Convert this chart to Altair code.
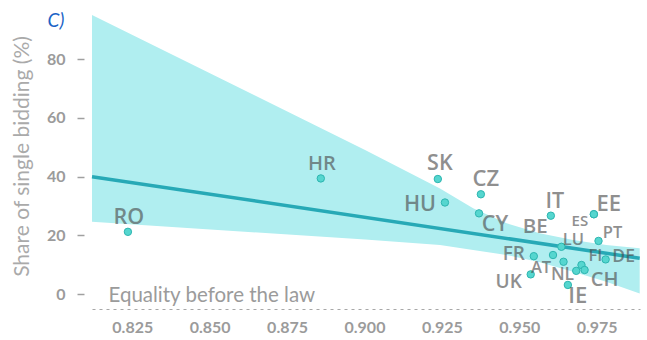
import altair as alt
import pandas as pd

# Country observations: rule-of-law index vs. share of single bidding
countries = ["RO", "HR", "SK", "HU", "CZ", "CY", "IT", "EE", "ES", "BE",
             "PT", "LU", "FR", "AT", "NL", "FI", "DE", "UK", "IE", "CH"]
equality = [0.8236, 0.8859, 0.9237, 0.9260, 0.9376, 0.9370, 0.9602, 0.9741, 0.9741, 0.9684,
            0.9756, 0.9636, 0.9547, 0.9609, 0.9643, 0.9701, 0.9779, 0.9537, 0.9657, 0.9711]
single_bidding = [21.2, 39.4, 39.2, 31.2, 34.0, 27.5, 26.7, 27.2, 27.2, 7.9,
                  18.1, 16.1, 12.9, 13.3, 11.0, 9.9, 11.8, 6.7, 3.1, 8.2]

# Repelled label placement (pixel offsets from each point) and label font sizes
label_dx = [1, 1, 2, -25, 5, 16, 4, 15, -14, -41, 14, 12, -20, -12, -1, 14, 18, -22, 10, 20]
label_dy = [-15, -15, -16, 2, -16, 11, -15, -11, 6, -45, -9, -8, -3, 12, 12, -10, -3, 7, 10, 9]
label_size = [21.5, 20, 21.5, 21.5, 22, 21.5, 21.5, 22, 15, 20.5,
              16.5, 16.5, 19, 16.5, 17.5, 16.5, 17.5, 19, 22, 20]

# Fitted line and its confidence band
fit_x = [0.812, 0.9889]
fit_y = [40.0, 12.2]
band_x = [0.812, 0.9002, 0.9244, 0.9351, 0.9459, 0.9566, 0.9674, 0.9781, 0.9889]
band_hi = [95.1, 49.1, 36.0, 29.2, 24.1, 20.7, 18.4, 16.7, 15.6]
band_lo = [24.6, 18.6, 16.7, 15.0, 13.3, 10.8, 7.6, 4.2, 0.2]

x_ticks = [0.825, 0.850, 0.875, 0.900, 0.925, 0.950, 0.975]
y_ticks = [0, 20, 40, 60, 80]

pts = pd.DataFrame({"country": countries, "x": equality, "y": single_bidding})
fit = pd.DataFrame({"x": fit_x, "y": fit_y})
band = pd.DataFrame({"x": band_x, "hi": band_hi, "lo": band_lo})

FONT = "Lato"
LABEL_FONT = "Open Sans"
GREY = "#9b9b9b"

x_scale = alt.Scale(domain=[0.812, 0.989], nice=False, zero=False)
y_scale = alt.Scale(domain=[-5.1, 95.1], nice=False, zero=False)

x_axis = alt.Axis(
    values=x_ticks, format=".3f", grid=False, ticks=False, tickSize=0,
    domain=True, domainDash=[3, 4], domainColor="#a8a8a8", domainWidth=1.2,
    labelFont=FONT, labelFontSize=16, labelFontWeight="bold", labelColor=GREY,
    labelPadding=10,
    title="Equality before the law", titleFont=FONT, titleFontSize=20.5,
    titleFontWeight="normal", titleColor=GREY, titleAnchor="start",
    titleAlign="left", titleBaseline="alphabetic", titleX=16, titleY=-8,
)
y_axis = alt.Axis(
    values=y_ticks, format="d", grid=False, domain=False,
    ticks=True, tickSize=7, tickWidth=1.5, tickColor="#a0a0a0", offset=8,
    labelFont=FONT, labelFontSize=16, labelFontWeight="bold", labelColor=GREY,
    labelPadding=12,
    title="Share of single bidding (%)", titleFont=FONT, titleFontSize=21,
    titleFontWeight="normal", titleColor="#aaaaaa", titleAngle=-90,
    titleAlign="center", titleBaseline="middle", titleX=-62, titleY=141,
)

band_layer = alt.Chart(band).mark_area(color="#b0eef0", opacity=1).encode(
    x=alt.X("x:Q", scale=x_scale, axis=x_axis),
    y=alt.Y("hi:Q", scale=y_scale, axis=y_axis),
    y2="lo:Q",
)

line_layer = alt.Chart(fit).mark_line(color="#27a9b6", strokeWidth=3.5).encode(
    x=alt.X("x:Q", scale=x_scale),
    y=alt.Y("y:Q", scale=y_scale),
)

point_layer = alt.Chart(pts).mark_point(
    filled=True, fill="#55d6cf", stroke="#2db5b0", strokeWidth=1, size=55, opacity=1
).encode(
    x=alt.X("x:Q", scale=x_scale),
    y=alt.Y("y:Q", scale=y_scale),
)

# One text layer per country so each label gets its own offset and size
label_layers = []
for name, dx, dy, fs in zip(countries, label_dx, label_dy, label_size):
    label_layers.append(
        alt.Chart(pts).transform_filter(alt.datum.country == name).mark_text(
            font=LABEL_FONT, fontWeight=600, color="#4b4b4b", opacity=0.62,
            align="center", baseline="middle", dx=dx, dy=dy + 1, fontSize=fs,
        ).encode(
            x=alt.X("x:Q", scale=x_scale),
            y=alt.Y("y:Q", scale=y_scale),
            text="country:N",
        )
    )

panel_tag = alt.Chart(pd.DataFrame({"t": ["C)"]})).mark_text(
    font=FONT, fontSize=19, fontStyle="italic", color="#1a63c6",
    align="center", baseline="middle",
).encode(text="t:N", x=alt.value(-36), y=alt.value(6))

chart = alt.layer(band_layer, line_layer, point_layer, *label_layers, panel_tag).properties(
    width=548, height=294,
    autosize=alt.AutoSizeParams(type="none"),
    padding={"left": 92, "top": 15, "right": 7, "bottom": 31},
).configure_view(stroke=None)

chart.save("out.html", embed_options={"renderer": "svg", "actions": False})
